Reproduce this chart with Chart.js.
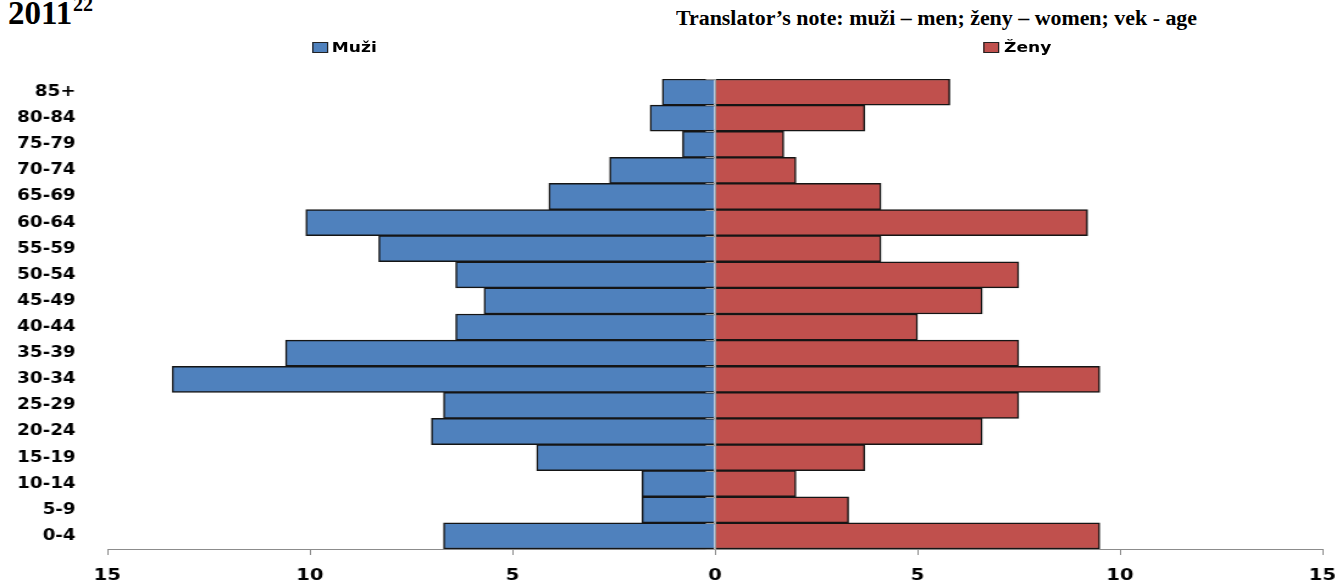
<!DOCTYPE html>
<html>
<head>
<meta charset="utf-8">
<script src="https://cdn.jsdelivr.net/npm/chart.js@4"></script>
<style>
  html, body { margin: 0; padding: 0; background: #fff; overflow: hidden; }
  body { width: 1342px; height: 585px; position: relative; }
  #stretch { position: absolute; left: 0; top: 0; width: 1100px; height: 585px; transform: scaleX(1.22); transform-origin: 0 0; }
  #c { position: absolute; left: 0; top: 0; width: 1100px; height: 585px; }
  .ttl { position: absolute; font-family: "Liberation Serif", "Times New Roman", serif; font-weight: bold; color: #000; white-space: nowrap; }
  .leg { position: absolute; font-family: "DejaVu Sans", Verdana, sans-serif; font-weight: bold; font-size: 14px; line-height: 14px; color: #000; white-space: nowrap; }
  .box { position: absolute; width: 11px; height: 9px; border: 1px solid #222; }
</style>
</head>
<body>
<div class="ttl" style="left:8px; top:-3px; font-size:33px; line-height:33px;">2011</div>
<div class="ttl" style="left:73px; top:-6px; font-size:20px; line-height:20px;">22</div>
<div class="ttl" style="left:676px; top:8px; font-size:20px; line-height:20px; transform: scaleX(1.095); transform-origin: 0 0;">Translator’s note: muži – men; ženy – women; vek - age</div>

<div id="stretch">
  <canvas id="c" width="1100" height="585"></canvas>
  <div class="box" style="left:256px; top:42px; background:#4F81BD;"></div>
  <div class="leg" style="left:272px; top:40px;">Muži</div>
  <div class="box" style="left:806px; top:42px; background:#C0504D;"></div>
  <div class="leg" style="left:823px; top:40px;">Ženy</div>
</div>

<script>
// Data (bottom to top)
const ageGroups = ['0-4','5-9','10-14','15-19','20-24','25-29','30-34','35-39','40-44','45-49','50-54','55-59','60-64','65-69','70-74','75-79','80-84','85+'];
const men   = [6.7, 1.8, 1.8, 4.4, 7.0, 6.7, 13.4, 10.6, 6.4, 5.7, 6.4, 8.3, 10.1, 4.1, 2.6, 0.8, 1.6, 1.3];
const women = [9.5, 3.3, 2.0, 3.7, 6.6, 7.5, 9.5, 7.5, 5.0, 6.6, 7.5, 4.1, 9.2, 4.1, 2.0, 1.7, 3.7, 5.8];
const xTicks = [-15, -10, -5, 0, 5, 10, 15];
const seriesNames = ['Muži', 'Ženy'];

const menPlot = men.map(v => -v);

const zeroAxis = {
  id: 'zeroAxis',
  afterDatasetsDraw(chart) {
    const {ctx, scales: {x, y}, chartArea} = chart;
    const x0 = Math.round(x.getPixelForValue(0)) + 0.5;
    const n = ageGroups.length;
    const step = y.getPixelForValue(0) - y.getPixelForValue(1);
    ctx.save();
    ctx.strokeStyle = '#9a9a9a';
    ctx.lineWidth = 1;
    ctx.beginPath();
    ctx.moveTo(x0, chartArea.top);
    ctx.lineTo(x0, chartArea.bottom);
    for (let i = 0; i <= n; i++) {
      const b = y.getPixelForValue(0) + step / 2 - i * step;
      const by = Math.round(b) + 0.5;
      ctx.moveTo(x0 - 8, by);
      ctx.lineTo(x0, by);
    }
    ctx.stroke();
    ctx.restore();
  }
};

new Chart(document.getElementById('c'), {
  type: 'bar',
  data: {
    labels: ageGroups,
    datasets: [
      { label: seriesNames[0], data: menPlot, backgroundColor: '#4F81BD', borderColor: '#151515', borderWidth: 1.5, barPercentage: 1, categoryPercentage: 1 },
      { label: seriesNames[1], data: women, backgroundColor: '#C0504D', borderColor: '#151515', borderWidth: 1.5, barPercentage: 1, categoryPercentage: 1 }
    ]
  },
  options: {
    indexAxis: 'y',
    responsive: false,
    maintainAspectRatio: false,
    devicePixelRatio: 1,
    animation: false,
    layout: { padding: { top: 79, right: 16, left: 0, bottom: 0 } },
    plugins: { legend: { display: false }, tooltip: { enabled: false }, title: { display: false } },
    scales: {
      x: {
        stacked: true,
        min: -15, max: 15,
        afterBuildTicks(scale) { scale.ticks = xTicks.map(v => ({ value: v })); },
        afterFit(scale) { scale.height = 36; scale.paddingRight = 0; scale.paddingLeft = 0; },
        grid: { display: true, drawOnChartArea: false, drawTicks: true, tickLength: 6, color: '#8c8c8c', lineWidth: 1 },
        border: { display: true, color: '#8c8c8c', width: 1 },
        ticks: {
          padding: 11,
          color: '#000',
          font: { family: 'DejaVu Sans', weight: 'bold', size: 16 },
          callback: (v) => String(Math.abs(v))
        }
      },
      y: {
        stacked: true,
        reverse: true,
        afterFit(scale) { scale.width = 88; scale.paddingTop = 0; scale.paddingBottom = 0; },
        grid: { display: false, drawTicks: false },
        border: { display: false },
        ticks: {
          padding: 26,
          color: '#000',
          autoSkip: false,
          font: { family: 'DejaVu Sans', weight: 'bold', size: 15 }
        }
      }
    }
  },
  plugins: [zeroAxis]
});
</script>
</body>
</html>
